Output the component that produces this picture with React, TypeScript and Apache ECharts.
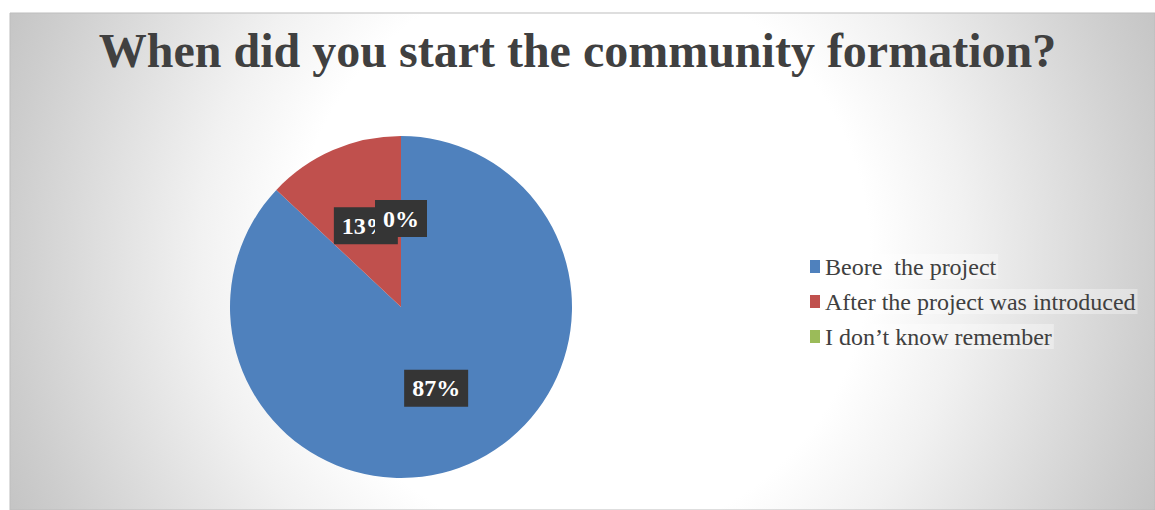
import React, { useEffect, useRef } from "react";
import * as echarts from "echarts";

const titleText = "When did you start the community formation?";
const categories = ["Beore  the project", "After the project was introduced", "I don\u2019t know remember"];
const values = [87, 13, 0];
const colors = ["#4F81BD", "#C0504D", "#9BBB59"];

export default function App() {
  const ref = useRef<HTMLDivElement>(null);
  useEffect(() => {
    if (!ref.current) return;
    const chart = echarts.init(ref.current, null, { renderer: "svg" });
    const serif = "'Liberation Serif', 'Times New Roman', serif";
    chart.setOption({
      animation: false,
      graphic: [
        {
          type: "rect",
          z: -10,
          silent: true,
          shape: { x: 10, y: 13, width: 1145, height: 497 },
          style: {
            fill: {
              type: "radial",
              x: 582,
              y: 255,
              r: 640,
              global: true,
              colorStops: [
                { offset: 0, color: "#ffffff" },
                { offset: 0.45, color: "#ffffff" },
                { offset: 0.6, color: "#f1f1f1" },
                { offset: 0.9, color: "#cdcdcd" },
                { offset: 1, color: "#c2c2c2" },
              ],
            },
            stroke: "#bdbdbd",
            lineWidth: 1,
          },
        },
      ],
      title: {
        text: titleText,
        left: "center",
        top: 21,
        textStyle: { fontFamily: serif, fontWeight: "bold", fontSize: 48, color: "#404040" },
      },
      legend: {
        orient: "vertical",
        left: 805,
        top: 249,
        itemWidth: 10,
        itemHeight: 13,
        itemGap: 10,
        icon: "rect",
        data: categories,
        textStyle: {
          fontFamily: serif,
          fontSize: 24,
          color: "#404040",
          backgroundColor: "rgba(255,255,255,0.35)",
          padding: [1, 2, 0, 0],
        },
      },
      series: [
        {
          type: "pie",
          center: [401, 307],
          radius: [0, 171],
          startAngle: 90,
          clockwise: true,
          minShowLabelAngle: -1,
          labelLayout: { hideOverlap: false },
          data: categories.map((name, i) => ({ name, value: values[i], itemStyle: { color: colors[i] } })),
          label: {
            show: true,
            position: "inside",
            formatter: "{d}%",
            fontFamily: serif,
            fontWeight: "bold",
            fontSize: 24,
            color: "#ffffff",
            backgroundColor: "#353535",
            padding: [7, 8, 6, 8],
          },
          labelLine: { show: false },
        },
      ],
    });
    return () => chart.dispose();
  }, []);
  return <div ref={ref} style={{ position: "absolute", left: 0, top: 0, width: 1155, height: 510 }} />;
}
